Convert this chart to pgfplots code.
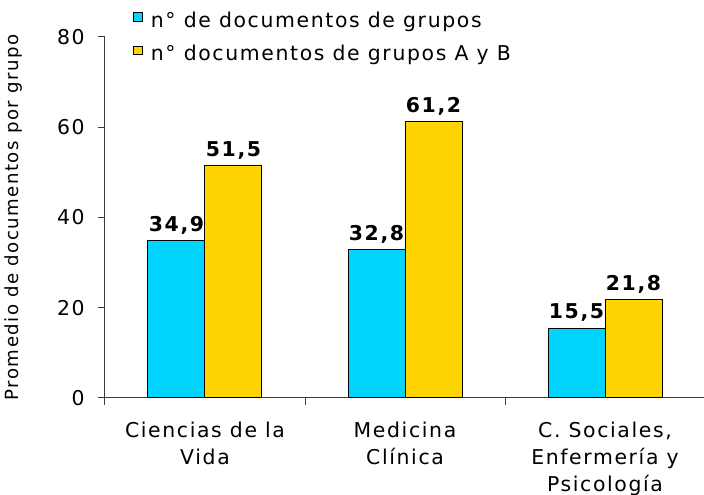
\documentclass[border=0pt]{standalone}
\usepackage{fontspec}
\setmainfont{DejaVu Sans}[LetterSpace=8]
\usepackage{pgfplots}
\pgfplotsset{compat=1.18}
\usetikzlibrary{calc}
\definecolor{barcyan}{RGB}{0,212,255}
\definecolor{bargold}{RGB}{255,212,0}
\definecolor{axisgray}{RGB}{60,60,60}
\newcommand\chartfont{\fontsize{15.3pt}{20.25pt}\selectfont}

\begin{document}
\begin{tikzpicture}
\begin{axis}[
  name=ax,
  scale only axis,
  width=450pt, height=270.75pt,
  xmin=-0.5, xmax=2.5,
  ymin=0, ymax=80,
  axis x line=bottom, axis y line=left,
  axis line style={-, axisgray, line width=0.75pt},
  tick style={axisgray, line width=0.75pt},
  tick align=outside,
  major tick length=5.25pt, minor tick length=5.25pt,
  ybar=0pt, bar width=42.75pt,
  xtick={0,1,2},
  xticklabels={Ciencias de la\\Vida, Medicina\\Clínica, {C. Sociales,\\Enfermería y\\Psicología}},
  major x tick style={draw=none},
  minor xtick={-0.5,0.5,1.5,2.5},
  ytick={0,20,40,60,80},
  /pgf/number format/assume math mode=true,
  tick label style={font=\chartfont},
  yticklabel style={xshift=-6.5pt},
  xticklabel style={align=center, anchor=north, yshift=-9pt},
  ylabel={Promedio de documentos por grupo},
  ylabel style={font=\fontsize{13.6pt}{16pt}\selectfont, at={(axis description cs:-0.152,0.5)}, anchor=center},
  legend style={draw=none, fill=none, font=\chartfont, at={(axis description cs:0.04,1.085)}, anchor=north west, row sep=8pt,
    /tikz/every odd column/.append style={column sep=4pt}},
  legend cell align=left,
  legend image code/.code={\draw[#1] (0pt,-0.5pt) rectangle (6.5pt,6pt);},
  nodes near coords={\pgfmathprintnumber[fixed,fixed zerofill,precision=1,use comma]{\pgfplotspointmeta}},
  every node near coord/.append style={font=\chartfont\bfseries, black, yshift=1pt},
  clip=false,
]
\addplot+[fill=barcyan, draw=black, line width=0.75pt] coordinates {(0,34.9) (1,32.8) (2,15.5)};
\addlegendentry{n° de documentos de grupos}
\addplot+[fill=bargold, draw=black, line width=0.75pt] coordinates {(0,51.5) (1,61.2) (2,21.8)};
\addlegendentry{n° documentos de grupos A y B}
\end{axis}
\pgfresetboundingbox
\path ($(ax.south west)+(-78.75pt,-72.75pt)$) rectangle ($(ax.north east)+(-0.75pt,27.75pt)$);
\end{tikzpicture}
\end{document}
